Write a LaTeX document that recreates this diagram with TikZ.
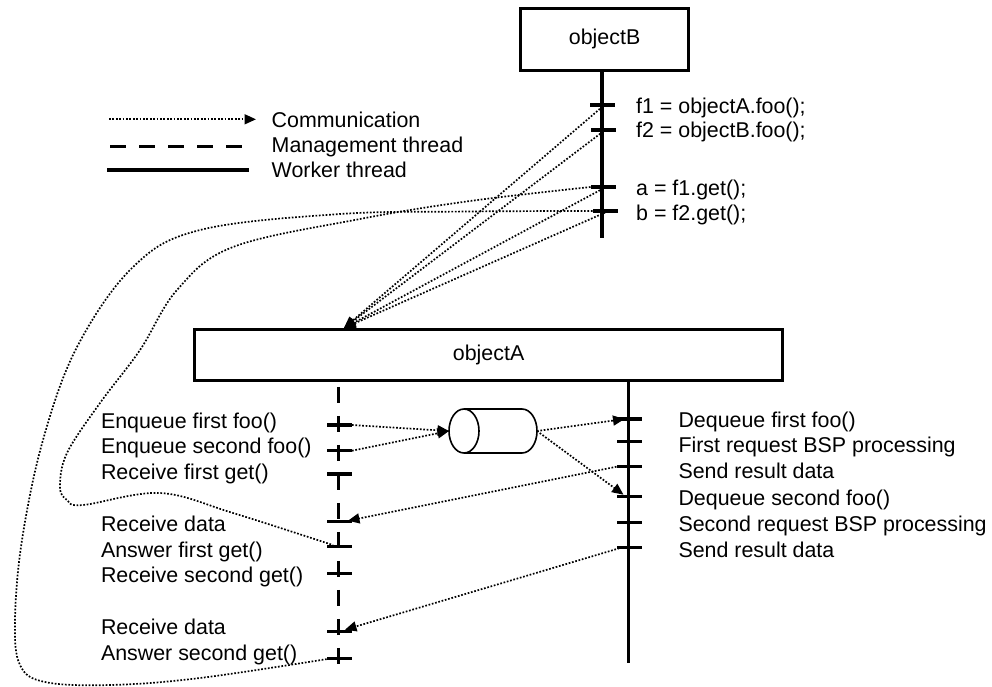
\documentclass[tikz,border=0pt]{standalone}
\usepackage{fontspec}
\setmainfont{Liberation Sans}
\usetikzlibrary{arrows.meta,calc}
\begin{document}
\begin{tikzpicture}[x=1pt,y=-1pt,
  every node/.style={inner sep=0pt, outer sep=0pt},
  lbl/.style={anchor=base west, font=\fontsize{21.4}{25}\selectfont},
  objbox/.style={draw, line width=3pt, font=\fontsize{21.4}{25}\selectfont},
  ticknode/.style={fill=black, minimum width=25pt, minimum height=3.2pt},
  worker/.style={line width=3.2pt},
  mgmt/.style={line width=3.2pt, dash pattern=on 16pt off 13pt},
  commline/.style={line width=1.7pt, dash pattern=on 1.7pt off 1.7pt},
  comm/.style={commline, -{Triangle[length=11.5pt,width=10pt]}},
  cyl/.style={line width=1.6pt}
]
\useasboundingbox (0,0) rectangle (992,686);

% legend
\coordinate (lg1a) at (109,119.3);
\coordinate (lg1b) at (256,119.3);
\coordinate (lg2a) at (110,146.7);
\coordinate (lg2b) at (243,146.7);
\coordinate (lg3a) at (107,170);
\coordinate (lg3b) at (249,170);
\draw[comm] (lg1a) -- (lg1b);
\draw[mgmt] (lg2a) -- (lg2b);
\draw[worker] (lg3a) -- (lg3b);
\node[lbl] (lc) at (271.7,127) {Communication};
\node[lbl] (lm) at (271.7,152) {Management thread};
\node[lbl] (lw) at (271.7,177) {Worker thread};

% objects
\node[objbox, minimum width=168pt, minimum height=62pt] (objB) at (604.6,39) {objectB};
\node[objbox, minimum width=588pt, minimum height=50.6pt] (objA) at (488.6,355) {objectA};

% lifelines
\coordinate (bEnd) at (602,238);
\coordinate (mEnd) at (338.5,664);
\coordinate (wEnd) at (628.3,663);
\draw[worker] (objB.south -| bEnd) -- (bEnd);
\draw[mgmt] ($(objA.south -| mEnd)+(0,6.5)$) -- (mEnd);
\draw[worker] (objA.south -| wEnd) -- (wEnd);

% ticks on objectB
\node[ticknode] (b1) at (602.5,105) {};
\node[ticknode] (b2) at (603,130) {};
\node[ticknode] (b3) at (603,187) {};
\node[ticknode] (b4) at (605,211) {};

% ticks on the management thread
\foreach \n/\y in {1/425,2/450.7,3/474,4/521.7,5/546.7,6/573.3,7/631.7,8/658.3}
  \node[ticknode] (m\n) at (339.5,\y) {};

% ticks on the worker thread
\foreach \n/\y in {1/419,2/441.7,3/466.7,4/496.7,5/522.7,6/547.3}
  \node[ticknode] (w\n) at (629,\y) {};

% labels
\node[lbl] (ob1) at (636.2,113.5) {f1 = objectA.foo();};
\node[lbl] (ob2) at (636.2,137.5) {f2 = objectB.foo();};
\node[lbl] (ob3) at (636.2,195.5) {a = f1.get();};
\node[lbl] (ob4) at (636.2,220) {b = f2.get();};

\node[lbl] (ml1) at (101,428) {Enqueue first foo()};
\node[lbl] (ml2) at (101,453.5) {Enqueue second foo()};
\node[lbl] (ml3) at (101,479) {Receive first get()};
\node[lbl] (ml4) at (101,531.5) {Receive data};
\node[lbl] (ml5) at (101,557) {Answer first get()};
\node[lbl] (ml6) at (101,582.5) {Receive second get()};
\node[lbl] (ml7) at (101,634.5) {Receive data};
\node[lbl] (ml8) at (101,660.5) {Answer second get()};

\node[lbl] (wl1) at (678.5,427) {Dequeue first foo()};
\node[lbl] (wl2) at (678.5,452.5) {First request BSP processing};
\node[lbl] (wl3) at (678.5,478) {Send result data};
\node[lbl] (wl4) at (678.5,505) {Dequeue second foo()};
\node[lbl] (wl5) at (678.5,531) {Second request BSP processing};
\node[lbl] (wl6) at (678.5,557) {Send result data};

% request queue
\node[minimum width=88pt, minimum height=44pt] (queue) at (493,431) {};
\begin{scope}[shift={(queue.center)}]
  \draw[cyl] (-29,-22) -- (29,-22)
    .. controls (37.3,-22) and (44,-12.15) .. (44,0)
    .. controls (44,12.15) and (37.3,22) .. (29,22) -- (-29,22);
  \draw[cyl] (-29,0) ellipse [x radius=15, y radius=22];
\end{scope}

% calls from objectB into objectA
\coordinate (atip) at (344,328);
\draw[comm] (b1.south) -- (atip);
\draw[comm] (b2.south) -- (atip);
\draw[comm] (b3.south) -- (atip);
\draw[comm] (b4.south) -- (atip);

% queueing and processing
\draw[comm] (m1.east) -- (queue.west);
\draw[comm] (m2.east) -- (queue.west);
\draw[comm] (queue.east) -- ($(w1.west)+(8,0)$);
\draw[comm] (queue.east) -- ($(w4.west)+(7,-2)$);
\draw[comm] (w3.west) -- ($(m4.east)+(-4,-1)$);
\draw[comm] ($(w6.west)+(6,0)$) -- ($(m7.east)+(-7,-2)$);

% answers to the get() calls
\coordinate (m5in) at ($(m5.north)+(-6.5,0)$);
\coordinate (m8in) at ($(m8.west)+(8,-0.5)$);
\draw[commline] plot[smooth, tension=0.6] coordinates {(b3.west) (470,201) (360,219)
  (233,247) (177,290) (140,350) (100,403) (67,453) (60,487) (67,500) (83,505)
  (160,493) (233,513) (m5in)};
\draw[commline] plot[smooth, tension=0.6] coordinates {(b4.west) (470,211.5) (340,214)
  (200,230) (133,267) (77,347) (43,440) (22,540) (15,620) (20,665) (45,682)
  (110,685) (200,678) (m8in)};
\end{tikzpicture}
\end{document}
